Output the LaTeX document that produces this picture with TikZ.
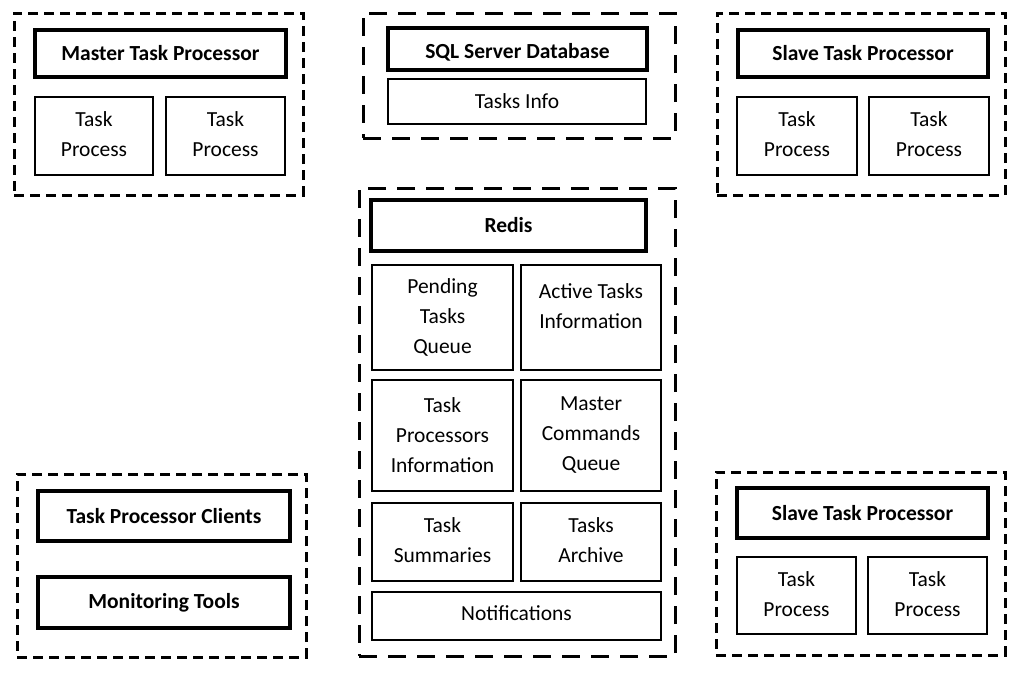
\documentclass[tikz,border=0pt]{standalone}
\usepackage{fontspec}
\setmainfont{Carlito}
\begin{document}
\begin{tikzpicture}[x=1pt,y=-1pt,
  grpshort/.style={draw, line width=3pt, dash pattern=on 10pt off 6pt},
  grplong/.style={draw, line width=3pt, dash pattern=on 18pt off 11pt},
  thickbox/.style={draw, line width=3.5pt, font=\fontsize{21.5}{30}\selectfont\bfseries},
  thinbox/.style={draw, line width=1.5pt},
  boldtxt/.style={font=\fontsize{21.5}{30}\selectfont\bfseries},
  every node/.style={inner sep=0pt, outer sep=0pt, align=center, font=\fontsize{21.5}{30}\selectfont}
]
\newcommand{\bx}[7]{\node[#1, minimum width={(#4-#2)*1pt}, minimum height={(#5-#3)*1pt}] (#6) at ({(#2+#4)/2},{(#3+#5)/2}) {#7};}
\useasboundingbox (0,0) rectangle (1024,699);
% Master group
\bx{grpshort}{14}{13}{303}{195}{mgrp}{}
\bx{thickbox}{35}{30}{286}{77}{mtitle}{Master Task Processor}
\bx{thinbox}{35}{97}{153}{175}{mtpa}{}
\node (mtpatxt) at (94,134) {Task\\Process};
\bx{thinbox}{166}{97}{285}{175}{mtpb}{}
\node (mtpbtxt) at (225.5,134) {Task\\Process};
% SQL group
\bx{grplong}{363}{13}{675}{138}{sqlgrp}{}
\bx{thickbox}{388}{28}{647}{70}{sqltitle}{}
\node[boldtxt] (sqltxt) at (517.5,52) {SQL Server Database};
\bx{thinbox}{388}{79}{646}{124}{tasksinfo}{Tasks Info}
% Redis group
\bx{grplong}{359}{188}{675}{656}{redisgrp}{}
\bx{thickbox}{371}{200}{646}{251}{redis}{Redis}
\bx{thinbox}{372}{265}{513}{370}{pending}{Pending\\Tasks\\Queue}
\bx{thinbox}{521}{265}{661}{370}{active}{}
\node[anchor=north] (activetxt) at (591,284) {Active Tasks\\Information};
\bx{thinbox}{372}{380}{513}{491}{tpi}{Task\\Processors\\Information}
\bx{thinbox}{521}{380}{661}{491}{mcq}{Master\\Commands\\Queue}
\bx{thinbox}{372}{503}{513}{581}{summ}{}
\node (summtxt) at (442.5,540) {Task\\Summaries};
\bx{thinbox}{521}{503}{661}{581}{arch}{}
\node (archtxt) at (591,540) {Tasks\\Archive};
\bx{thinbox}{372}{592}{661}{640}{notif}{}
\node (notiftxt) at (516.5,613) {Notifications};
% Slave top
\bx{grpshort}{717}{13}{1005}{195}{sagrp}{}
\bx{thickbox}{738}{30}{988}{77}{satitle}{Slave Task Processor}
\bx{thinbox}{737}{97}{857}{175}{satpa}{}
\node (satpatxt) at (797,134) {Task\\Process};
\bx{thinbox}{869}{97}{989}{175}{satpb}{}
\node (satpbtxt) at (929,134) {Task\\Process};
% Clients
\bx{grpshort}{17}{474}{306}{657}{cgrp}{}
\bx{thickbox}{38}{491}{290}{541}{clients}{Task Processor Clients}
\bx{thickbox}{38}{577}{290}{628}{monitor}{Monitoring Tools}
% Slave bottom
\bx{grpshort}{716}{472}{1005}{655}{sbgrp}{}
\bx{thickbox}{737}{488}{988}{538}{sbtitle}{Slave Task Processor}
\bx{thinbox}{737}{557}{856}{634}{sbtpa}{}
\node (sbtpatxt) at (796.5,594) {Task\\Process};
\bx{thinbox}{868}{557}{987}{634}{sbtpb}{}
\node (sbtpbtxt) at (927.5,594) {Task\\Process};
\end{tikzpicture}
\end{document}
